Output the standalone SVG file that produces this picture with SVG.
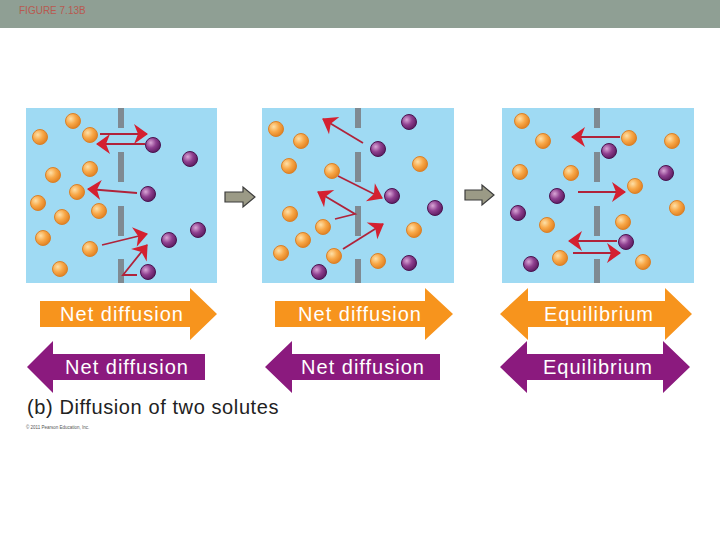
<svg xmlns="http://www.w3.org/2000/svg" width="720" height="540" viewBox="0 0 720 540">
<defs>
<radialGradient id="og" cx="0.35" cy="0.35" r="0.7"><stop offset="0" stop-color="#fde0a8"/><stop offset="0.5" stop-color="#f8a848"/><stop offset="1" stop-color="#e07f1f"/></radialGradient>
<radialGradient id="pg" cx="0.35" cy="0.35" r="0.7"><stop offset="0" stop-color="#d9a6d6"/><stop offset="0.5" stop-color="#8e3f8f"/><stop offset="1" stop-color="#5a1a5e"/></radialGradient>
<marker id="ah" viewBox="0 0 10 10" refX="9" refY="5" markerWidth="10" markerHeight="10" orient="auto" markerUnits="userSpaceOnUse" style="overflow:visible"><path d="M-2,-5 L12,5 L-2,15 L2,5 Z" fill="#d42030" transform="translate(-2,0)"/></marker>
</defs>
<style>
.p{fill:#9fdaf3}
.m{fill:#7f8a92}
.o{fill:url(#og);stroke:#d9822a;stroke-width:1}
.u{fill:url(#pg);stroke:#4a1450;stroke-width:1}
.a{stroke:#b0233a;stroke-width:1.8;fill:none;marker-end:url(#ah)}
.g{fill:#9b9a86;stroke:#3d3d3d;stroke-width:1.2}
.t{font-family:"Liberation Sans",Arial,sans-serif;font-size:20px;letter-spacing:1px;fill:#fff;text-anchor:middle}
</style>
<rect x="0" y="0" width="720" height="28" fill="#8f9f94"/>
<text x="19" y="14" font-family="Liberation Sans,Arial,sans-serif" font-size="10" fill="#b85a50">FIGURE 7.13B</text>

<g id="panel1">
<rect class="p" x="26" y="108" width="191" height="175"/>
<rect class="m" x="118" y="108" width="6" height="20"/><rect class="m" x="118" y="152" width="6" height="30"/><rect class="m" x="118" y="206" width="6" height="30"/><rect class="m" x="118" y="259" width="6" height="24"/>
<g class="o"><circle cx="73" cy="121" r="7.5"/><circle cx="40" cy="137" r="7.5"/><circle cx="90" cy="135" r="7.5"/><circle cx="90" cy="169" r="7.5"/><circle cx="53" cy="175" r="7.5"/><circle cx="77" cy="192" r="7.5"/><circle cx="38" cy="203" r="7.5"/><circle cx="99" cy="211" r="7.5"/><circle cx="62" cy="217" r="7.5"/><circle cx="43" cy="238" r="7.5"/><circle cx="90" cy="249" r="7.5"/><circle cx="60" cy="269" r="7.5"/></g>
<g class="u"><circle cx="153" cy="145" r="7.5"/><circle cx="190" cy="159" r="7.5"/><circle cx="148" cy="194" r="7.5"/><circle cx="169" cy="240" r="7.5"/><circle cx="198" cy="230" r="7.5"/><circle cx="148" cy="272" r="7.5"/></g>
</g>
<g id="panel2">
<rect class="p" x="262" y="108" width="192" height="175"/>
<rect class="m" x="355" y="108" width="6" height="20"/><rect class="m" x="355" y="152" width="6" height="30"/><rect class="m" x="355" y="206" width="6" height="30"/><rect class="m" x="355" y="259" width="6" height="24"/>
<g class="o"><circle cx="276" cy="129" r="7.5"/><circle cx="301" cy="141" r="7.5"/><circle cx="289" cy="166" r="7.5"/><circle cx="332" cy="171" r="7.5"/><circle cx="290" cy="214" r="7.5"/><circle cx="323" cy="227" r="7.5"/><circle cx="303" cy="240" r="7.5"/><circle cx="281" cy="253" r="7.5"/><circle cx="334" cy="256" r="7.5"/><circle cx="420" cy="164" r="7.5"/><circle cx="414" cy="230" r="7.5"/><circle cx="378" cy="261" r="7.5"/></g>
<g class="u"><circle cx="409" cy="122" r="7.5"/><circle cx="378" cy="149" r="7.5"/><circle cx="392" cy="196" r="7.5"/><circle cx="435" cy="208" r="7.5"/><circle cx="409" cy="263" r="7.5"/><circle cx="319" cy="272" r="7.5"/></g>
</g>
<g id="panel3">
<rect class="p" x="502" y="108" width="192" height="175"/>
<rect class="m" x="594" y="108" width="6" height="20"/><rect class="m" x="594" y="152" width="6" height="30"/><rect class="m" x="594" y="206" width="6" height="30"/><rect class="m" x="594" y="259" width="6" height="24"/>
<g class="o"><circle cx="522" cy="121" r="7.5"/><circle cx="543" cy="141" r="7.5"/><circle cx="629" cy="138" r="7.5"/><circle cx="672" cy="141" r="7.5"/><circle cx="520" cy="172" r="7.5"/><circle cx="571" cy="173" r="7.5"/><circle cx="635" cy="186" r="7.5"/><circle cx="677" cy="208" r="7.5"/><circle cx="547" cy="225" r="7.5"/><circle cx="623" cy="222" r="7.5"/><circle cx="560" cy="258" r="7.5"/><circle cx="643" cy="262" r="7.5"/></g>
<g class="u"><circle cx="609" cy="151" r="7.5"/><circle cx="666" cy="173" r="7.5"/><circle cx="557" cy="196" r="7.5"/><circle cx="518" cy="213" r="7.5"/><circle cx="626" cy="242" r="7.5"/><circle cx="531" cy="264" r="7.5"/></g>
</g>

<g id="connectors">
<line class="a" x1="100" y1="134" x2="147" y2="134"/>
<line class="a" x1="145" y1="144" x2="97" y2="144"/>
<line class="a" x1="137" y1="193" x2="88" y2="189"/>
<line class="a" x1="102" y1="245" x2="147" y2="234"/>
<polyline class="a" points="137,275 123,275 147,245"/>
<line class="a" x1="363" y1="143" x2="323" y2="119"/>
<line class="a" x1="338" y1="176" x2="382" y2="198"/>
<polyline class="a" points="335,219 355,214 318,192"/>
<line class="a" x1="343" y1="249" x2="383" y2="224"/>
<line class="a" x1="620" y1="137" x2="572" y2="137"/>
<line class="a" x1="578" y1="192" x2="625" y2="192"/>
<line class="a" x1="617" y1="241" x2="569" y2="241"/>
<line class="a" x1="573" y1="253" x2="620" y2="253"/>
<path class="g" d="M225,192 H243 V187 L255,197 L243,207 V202 H225 Z"/>
<path class="g" d="M465,190 H482 V185 L494,195 L482,205 V200 H465 Z"/>
</g>

<g id="orange1"><path d="M40,301 H190 V288 L217,314 L190,340 V327 H40 Z" fill="#f7941d"/><text class="t" x="122" y="321">Net diffusion</text></g>
<g id="orange2"><path d="M275,301 H425 V288 L453,314 L425,340 V327 H275 Z" fill="#f7941d"/><text class="t" x="360" y="321">Net diffusion</text></g>
<g id="orange3"><path d="M500,314 L528,288 V301 H665 V288 L692,314 L665,340 V327 H528 V340 Z" fill="#f7941d"/><text class="t" x="599" y="321">Equilibrium</text></g>
<g id="purple1"><path d="M205,354 H53 V341 L27,367 L53,393 V380 H205 Z" fill="#8b1a7e"/><text class="t" x="127" y="374">Net diffusion</text></g>
<g id="purple2"><path d="M440,354 H292 V341 L265,367 L292,393 V380 H440 Z" fill="#8b1a7e"/><text class="t" x="363" y="374">Net diffusion</text></g>
<g id="purple3"><path d="M500,367 L527,341 V354 H663 V341 L690,367 L663,393 V380 H527 V393 Z" fill="#8b1a7e"/><text class="t" x="598" y="374">Equilibrium</text></g>

<text x="27" y="414" font-family="Liberation Sans,Arial,sans-serif" font-size="20" letter-spacing="0.6" fill="#222">(b) Diffusion of two solutes</text>
<text x="26" y="429" font-family="Liberation Sans,Arial,sans-serif" font-size="4.5" fill="#555">© 2011 Pearson Education, Inc.</text>
</svg>
